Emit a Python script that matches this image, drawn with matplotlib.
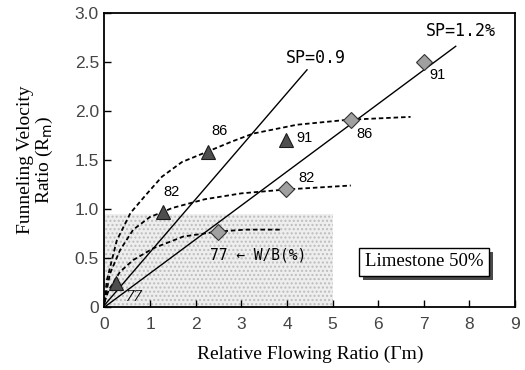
import matplotlib
matplotlib.use("Agg")
import matplotlib.pyplot as plt
import matplotlib.patheffects as pe

# --- data ---
tri_x = [0.25, 1.28, 2.28, 3.99]
tri_y = [0.25, 0.97, 1.585, 1.70]
tri_lab = ["77", "82", "86", "91"]

dia_x = [2.48, 3.99, 5.41, 7.00]
dia_y = [0.77, 1.20, 1.91, 2.50]
dia_lab = ["77", "82", "86", "91"]

# SP lines (endpoints)
sp09_x = [0.0, 4.44]
sp09_y = [0.02, 2.42]
sp12_x = [0.0, 7.70]
sp12_y = [0.0, 2.66]

# W/B curves
wb86_x = [0.0, 0.05, 0.27, 0.57, 0.90, 1.26, 1.70, 2.28, 2.80, 3.26, 4.22, 5.32, 6.71]
wb86_y = [0.05, 0.27, 0.68, 0.96, 1.14, 1.33, 1.48, 1.59, 1.69, 1.77, 1.86, 1.91, 1.94]
wb82_x = [0.0, 0.12, 0.34, 0.63, 1.00, 1.28, 1.48, 2.20, 3.00, 3.99, 5.40]
wb82_y = [0.05, 0.34, 0.58, 0.79, 0.92, 0.97, 1.01, 1.10, 1.16, 1.20, 1.24]
wb77_x = [0.0, 0.09, 0.34, 0.63, 1.07, 1.73, 2.48, 3.09, 3.89]
wb77_y = [0.05, 0.17, 0.36, 0.48, 0.60, 0.72, 0.77, 0.79, 0.79]

# shaded region
shade_x = [0, 5]
shade_top = 0.95

xticks = list(range(0, 10))
yticks = [0, 0.5, 1.0, 1.5, 2.0, 2.5, 3.0]
ytick_labels = ["0", "0.5", "1.0", "1.5", "2.0", "2.5", "3.0"]

fig = plt.figure(figsize=(5.25, 3.7), dpi=100, facecolor="white")
ax = fig.add_axes([0.199, 0.170, 0.782, 0.795])

ax.fill_between(shade_x, 0, shade_top, facecolor="#eeeeee", edgecolor="#bdbdbd",
                hatch="....", linewidth=0, zorder=0)

ax.plot(sp09_x, sp09_y, color="black", lw=1.0, zorder=2)
ax.plot(sp12_x, sp12_y, color="black", lw=1.0, zorder=2)

for cx, cy in [(wb86_x, wb86_y), (wb82_x, wb82_y), (wb77_x, wb77_y)]:
    ax.plot(cx, cy, color="black", lw=1.3, ls=(0, (2.5, 1.6)), zorder=2)

ax.plot(tri_x, tri_y, ls="none", marker="^", ms=10, mfc="#4e4e4e",
        mec="#1a1a1a", mew=0.8, zorder=4)
ax.plot(dia_x, dia_y, ls="none", marker="D", ms=8, mfc="#a0a0a0",
        mec="#333333", mew=0.8, zorder=4)

num_font = dict(family="Liberation Sans", size=10.5, color="black")
# labels next to markers (offsets in data units)
tri_off = [(0.38, -0.15), (0.18, 0.20), (0.24, 0.21), (0.39, 0.02)]
dia_off = [(0.06, -0.24), (0.44, 0.12), (0.30, -0.14), (0.30, -0.13)]
for i, lab in enumerate(tri_lab):
    if i == 0:
        ax.text(tri_x[i] + tri_off[i][0], tri_y[i] + tri_off[i][1], lab,
                ha="center", va="center", style="italic",
                family="Liberation Serif", size=12)
    else:
        ax.text(tri_x[i] + tri_off[i][0], tri_y[i] + tri_off[i][1], lab,
                ha="center", va="center", **num_font)
for i, lab in enumerate(dia_lab):
    if i == 0:
        continue
    ax.text(dia_x[i] + dia_off[i][0], dia_y[i] + dia_off[i][1], lab,
            ha="center", va="center", **num_font)

ax.text(2.32, 0.53, "77 \u2190 W/B(%)", ha="left", va="center",
        family="DejaVu Sans Mono", size=10.5)

ax.text(4.63, 2.54, "SP=0.9", ha="center", va="center",
        family="DejaVu Sans Mono", size=12)
ax.text(7.81, 2.82, "SP=1.2%", ha="center", va="center",
        family="DejaVu Sans Mono", size=12)

# boxed note with drop shadow
note = ax.text(7.0, 0.46, "Limestone 50%", ha="center", va="center",
               family="Liberation Serif", size=13.5, color="black", zorder=6,
               bbox=dict(boxstyle="square,pad=0.3", fc="white", ec="black", lw=1))
note.get_bbox_patch().set_path_effects([
    pe.SimplePatchShadow(offset=(3, -3), shadow_rgbFace="#4a4a4a", alpha=1.0),
    pe.Normal()])

ax.set_xlim(0, 9)
ax.set_ylim(0, 3.0)
ax.set_xticks(xticks)
ax.set_xticklabels([str(t) for t in xticks])
ax.set_yticks(yticks)
ax.set_yticklabels(ytick_labels)
ax.tick_params(direction="in", length=5, width=1, labelsize=12.5,
               labelcolor="#444444")
ax.tick_params(axis="x", pad=7)
ax.tick_params(axis="y", pad=4)
for lab in ax.get_xticklabels() + ax.get_yticklabels():
    lab.set_family("Liberation Sans")

for s in ax.spines.values():
    s.set_linewidth(1.3)
    s.set_color("black")

ax.set_xlabel("Relative Flowing Ratio (\u0393m)", family="Liberation Serif",
              size=14, labelpad=10)
ax.set_ylabel("Funneling Velocity\nRatio (R$_\\mathrm{m}$)", family="Liberation Serif",
              size=14, labelpad=14, linespacing=1.0)

fig.savefig("out.png", dpi=100, facecolor="white")
